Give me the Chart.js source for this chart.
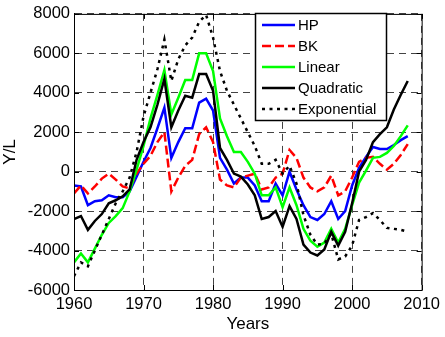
<!DOCTYPE html>
<html lang="en">
<head>
<meta charset="UTF-8" />
<title>Y/L by detrending method</title>
<script src="https://cdn.jsdelivr.net/npm/chart.js"></script>
<style>
  html, body { margin: 0; padding: 0; background: #fff; }
</style>
</head>
<body>
<canvas id="chart" width="445" height="337"></canvas>
<script>
  // years on the x axis
  const years = [1960, 1961, 1962, 1963, 1964, 1965, 1966, 1967, 1968, 1969,
    1970, 1971, 1972, 1973, 1974, 1975, 1976, 1977, 1978, 1979,
    1980, 1981, 1982, 1983, 1984, 1985, 1986, 1987, 1988, 1989,
    1990, 1991, 1992, 1993, 1994, 1995, 1996, 1997, 1998, 1999,
    2000, 2001, 2002, 2003, 2004, 2005, 2006, 2007, 2008];

  // Y/L gap by method
  const hp = [-700, -750, -1700, -1500, -1450, -1200, -1300, -1300, -1000, -250,
    500, 1200, 2200, 3250, 700, 1500, 2200, 2200, 3500, 3700,
    3100, 700, 100, -600, -300, -300, -700, -1500, -1500, -600,
    -1200, 0, -900, -1700, -2300, -2450, -2150, -1500, -2400, -2000,
    -700, 200, 750, 1250, 1150, 1150, 1350, 1600, 1800];
  const bk = [-1100, -700, -1100, -750, -350, -100, -400, -750, -850, -100,
    400, 800, 1500, 2000, -1000, -300, 300, 600, 1900, 2250,
    1500, -400, -700, -800, -300, -200, -100, -900, -800, -300,
    -100, 1100, 700, -300, -800, -1000, -800, -200, -1200, -1000,
    -300, 500, 700, 750, 400, 100, 400, 850, 1400];
  const linear = [-4600, -4150, -4600, -3900, -3200, -2600, -2250, -1850, -1000, 100,
    1300, 2700, 3900, 5150, 2900, 3750, 4650, 4650, 6000, 6000,
    5100, 2700, 1800, 1000, 1000, 500, -100, -1200, -1200, -800,
    -1800, -800, -1700, -2900, -3500, -3800, -3600, -2900, -3600, -2900,
    -1700, -550, 50, 700, 750, 950, 1300, 1800, 2350];
  const quadratic = [-2400, -2250, -2950, -2500, -2150, -1600, -1450, -1250, -900, 600,
    1500, 2250, 3400, 4700, 2250, 3100, 3850, 3750, 4950, 4950,
    4100, 1200, 600, -100, -250, -650, -1200, -2400, -2300, -2000,
    -2800, -1750, -2400, -3700, -4100, -4250, -3950, -3050, -3750, -3050,
    -1600, 0, 600, 1500, 1900, 2250, 3150, 3900, 4600];
  const exponential = [-5300, -4600, -4800, -4000, -3200, -2400, -1600, -1000, -300, 1000,
    2800, 4000, 5200, 6700, 4600, 5700, 6400, 6800, 7600, 7950,
    6800, 5100, 4100, 3400, 2700, 2000, 1300, 400, 400, 600,
    -100, 300, -600, -2200, -3200, -3700, -3650, -3150, -4450, -4300,
    -3750, -2450, -2300, -2100, -2450, -2850, -2900, -2950, -3050];

  const xTicks = [1960, 1970, 1980, 1990, 2000, 2010];
  const yTicks = [-6000, -4000, -2000, 0, 2000, 4000, 6000, 8000];

  const labels = ["HP", "BK", "Linear", "Quadratic", "Exponential"];
  const colors = ["#0000ff", "#ff0000", "#00ff00", "#000000", "#000000"];
  const dashes = [[], [9, 4], [], [], [3, 4.5]];
  const series = [hp, bk, linear, quadratic, exponential];

  const pts = (vals) => vals.map((v, i) => ({ x: years[i], y: v }));

  // box round the plot, inward ticks and the legend box
  const frame = {
    id: "frame",
    afterDraw(chart) {
      const { ctx, chartArea: a, scales } = chart;
      ctx.save();
      ctx.strokeStyle = "#000";
      ctx.lineWidth = 1;
      ctx.setLineDash([]);
      ctx.strokeRect(a.left + 0.5, a.top + 0.5, a.right - a.left, a.bottom - a.top);
      ctx.beginPath();
      xTicks.forEach((t) => {
        const x = Math.round(scales.x.getPixelForValue(t)) + 0.5;
        ctx.moveTo(x, a.bottom); ctx.lineTo(x, a.bottom - 5);
        ctx.moveTo(x, a.top); ctx.lineTo(x, a.top + 5);
      });
      yTicks.forEach((t) => {
        const y = Math.round(scales.y.getPixelForValue(t)) + 0.5;
        ctx.moveTo(a.left, y); ctx.lineTo(a.left + 5, y);
        ctx.moveTo(a.right, y); ctx.lineTo(a.right - 5, y);
      });
      ctx.stroke();

      // legend
      const bx = 255, by = 13, bw = 131, bh = 107;
      ctx.fillStyle = "#fff";
      ctx.fillRect(bx, by, bw, bh);
      ctx.lineWidth = 1.5;
      ctx.strokeRect(bx + 0.5, by + 0.5, bw, bh);
      ctx.font = "15px 'Liberation Sans', Arial, sans-serif";
      ctx.textBaseline = "middle";
      labels.forEach((lab, i) => {
        const y = by + 12 + i * 21;
        ctx.strokeStyle = colors[i];
        ctx.lineWidth = 2.5;
        ctx.setLineDash(dashes[i]);
        ctx.beginPath();
        ctx.moveTo(bx + 7, y);
        ctx.lineTo(bx + 40, y);
        ctx.stroke();
        ctx.setLineDash([]);
        ctx.fillStyle = "#000";
        ctx.fillText(lab, bx + 43, y + 1);
      });
      ctx.restore();
    }
  };

  const tickFont = { family: "'Liberation Sans', Arial, sans-serif", size: 16.5 };
  const titleFont = { family: "'Liberation Sans', Arial, sans-serif", size: 17 };

  new Chart(document.getElementById("chart"), {
    type: "line",
    data: {
      datasets: series.map((s, i) => ({
        label: labels[i],
        data: pts(s),
        borderColor: colors[i],
        borderWidth: 2.5,
        borderDash: dashes[i],
        borderCapStyle: "butt",
        pointRadius: 0,
        tension: 0,
        fill: false,
        order: 5 - i
      }))
    },
    options: {
      responsive: false,
      devicePixelRatio: 1,
      animation: false,
      layout: { padding: { top: 10, right: 19, left: 0, bottom: 0 } },
      plugins: { legend: { display: false }, tooltip: { enabled: false } },
      scales: {
        x: {
          type: "linear",
          min: 1960,
          max: 2010,
          afterBuildTicks: (s) => { s.ticks = xTicks.map((v) => ({ value: v })); },
          ticks: { callback: (v) => String(v), font: tickFont, color: "#000", padding: 5, maxRotation: 0 },
          grid: { color: "#444", lineWidth: 1, drawTicks: false },
          border: { color: "#000", dash: [7, 5] },
          title: { display: true, text: "Years", font: titleFont, color: "#000", padding: { top: 0, bottom: 2 } },
          afterFit: (s) => { s.height = 47; }
        },
        y: {
          min: -6000,
          max: 8000,
          afterBuildTicks: (s) => { s.ticks = yTicks.map((v) => ({ value: v })); },
          ticks: { callback: (v) => String(v), font: tickFont, color: "#000", padding: 4 },
          grid: { color: "#444", lineWidth: 1, drawTicks: false },
          border: { color: "#000", dash: [7, 5] },
          title: { display: true, text: "Y/L", font: titleFont, color: "#000", padding: { top: 0, bottom: 0 } },
          afterFit: (s) => { s.width = 74; }
        }
      }
    },
    plugins: [frame]
  });
</script>
</body>
</html>
